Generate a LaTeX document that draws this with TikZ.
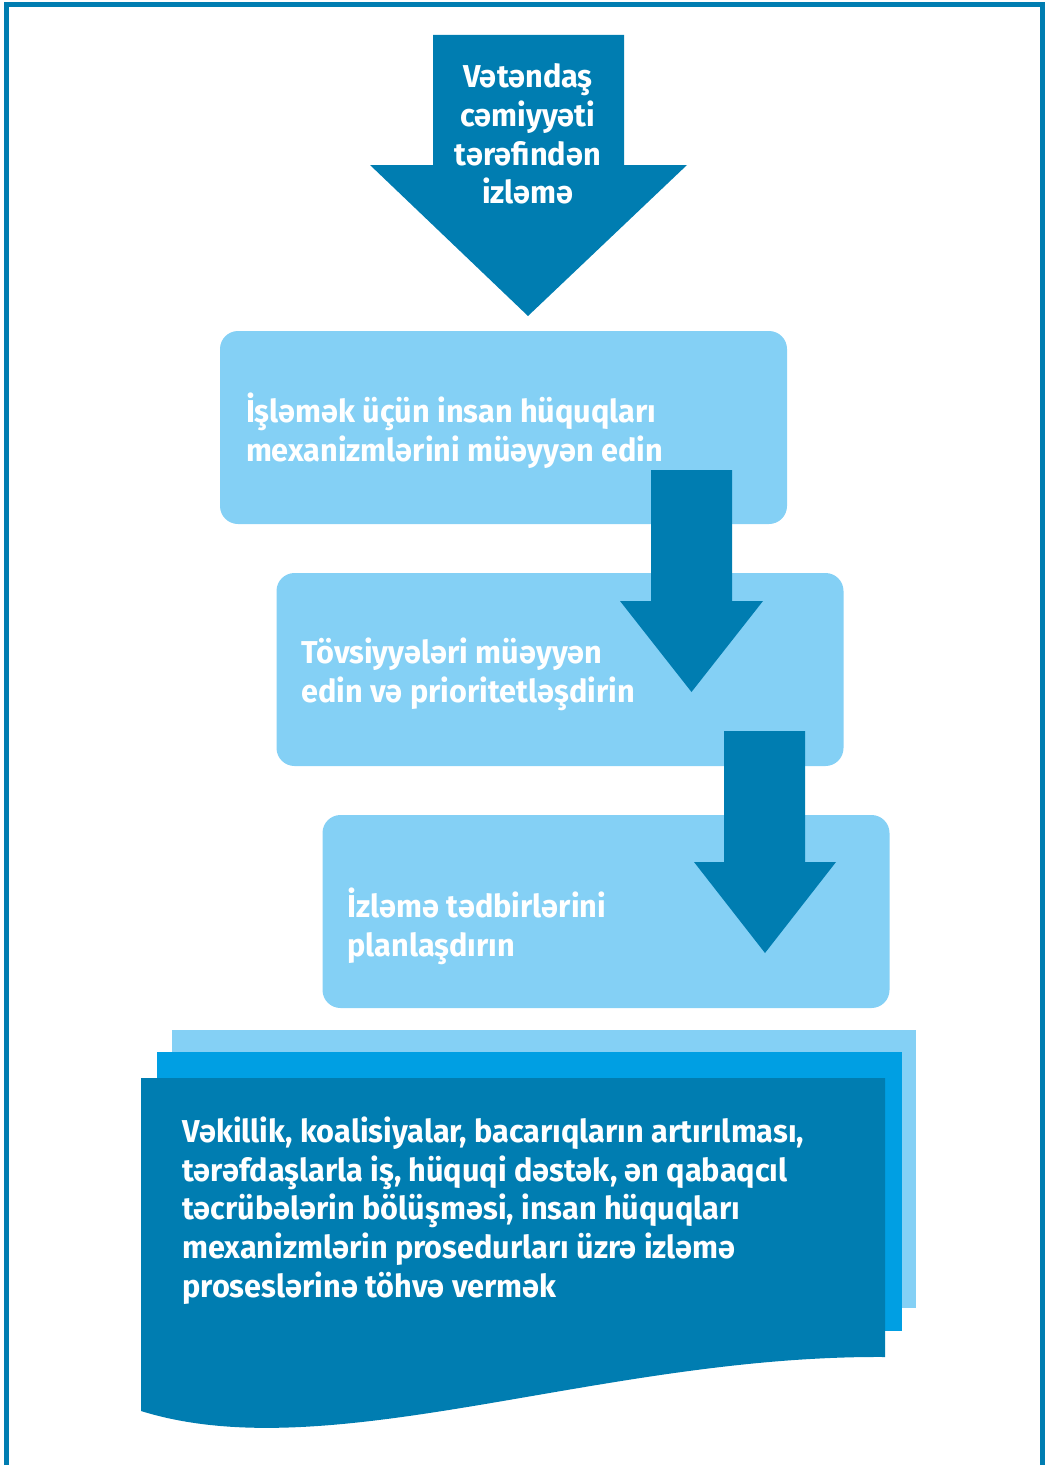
\documentclass[tikz,border=0pt]{standalone}
\usepackage{fontspec}
\setmainfont{Fira Sans}[FakeStretch=0.97]
\usetikzlibrary{positioning}

\definecolor{darkblue}{HTML}{007DB1}
\definecolor{midblue}{HTML}{009FE3}
\definecolor{lightblue}{HTML}{84D0F5}

\begin{document}
\begin{tikzpicture}[
    stepbox/.style={fill=lightblue, rounded corners=0.36cm, minimum width=11.34cm,
        minimum height=3.86cm, inner sep=0pt},
    steptext/.style={text=white, font=\bfseries\fontsize{18}{22}\selectfont,
        align=left, anchor=west, inner sep=0pt},
    blockarrow/.style={fill=darkblue}
    ]

    \useasboundingbox (0,0) rectangle (20.94,-29.3);

    % frame, open at the bottom
    \draw[darkblue, line width=0.1cm] (0.13,-30) |- (20.84,-0.1) -- ++(0,-30);

    % top arrow
    \fill[blockarrow] (8.66,-0.7) -- ++(3.82,0) -- ++(0,-2.6) -- (13.74,-3.3)
        -- (10.56,-6.32) -- (7.4,-3.3) -- (8.66,-3.3) -- cycle;
    \node[steptext, anchor=center, align=center] (monitor) at (10.56,-2.68)
        {Vətəndaş\\cəmiyyəti\\tərəfindən\\izləmə};

    % steps
    \node[stepbox] (identify) at (10.07,-8.55) {};
    \node[steptext, right=0.52cm of identify.west, yshift=-0.07cm] (identifytext)
        {İşləmək üçün insan hüquqları\\mexanizmlərini müəyyən edin};

    \node[stepbox] (recommend) at (11.2,-13.39) {};
    \node[steptext, right=0.5cm of recommend.west, yshift=-0.1cm] (recommendtext)
        {Tövsiyyələri müəyyən\\edin və prioritetləşdirin};

    \node[stepbox] (plan) at (12.12,-18.23) {};
    \node[steptext, right=0.5cm of plan.west, yshift=-0.29cm] (plantext)
        {İzləmə tədbirlərini\\planlaşdırın};

    % arrows between steps
    \fill[blockarrow] (13.02,-9.4) -- ++(1.62,0) -- ++(0,-2.62) -- ++(0.62,0)
        -- (13.83,-13.84) -- (12.4,-12.02) -- ++(0.62,0) -- cycle;
    \fill[blockarrow] (14.48,-14.62) -- ++(1.62,0) -- ++(0,-2.62) -- ++(0.62,0)
        -- (15.3,-19.06) -- (13.88,-17.24) -- ++(0.6,0) -- cycle;

    % stacked pages
    \fill[lightblue] (3.44,-20.6) rectangle (18.32,-26.16);
    \fill[midblue] (3.14,-21.04) rectangle (18.04,-26.62);
    \fill[darkblue] (2.82,-21.56) -- (17.7,-21.56) -- (17.7,-27.14)
        .. controls (12,-27.1) and (6.6,-29.4) .. (2.82,-28.22) -- cycle;
    \node[steptext] (contribute) at (3.64,-24.21)
        {Vəkillik, koalisiyalar, bacarıqların artırılması,\\
         tərəfdaşlarla iş, hüquqi dəstək, ən qabaqcıl\\
         təcrübələrin bölüşməsi, insan hüquqları\\
         mexanizmlərin prosedurları üzrə izləmə\\
         proseslərinə töhvə vermək};

\end{tikzpicture}
\end{document}
